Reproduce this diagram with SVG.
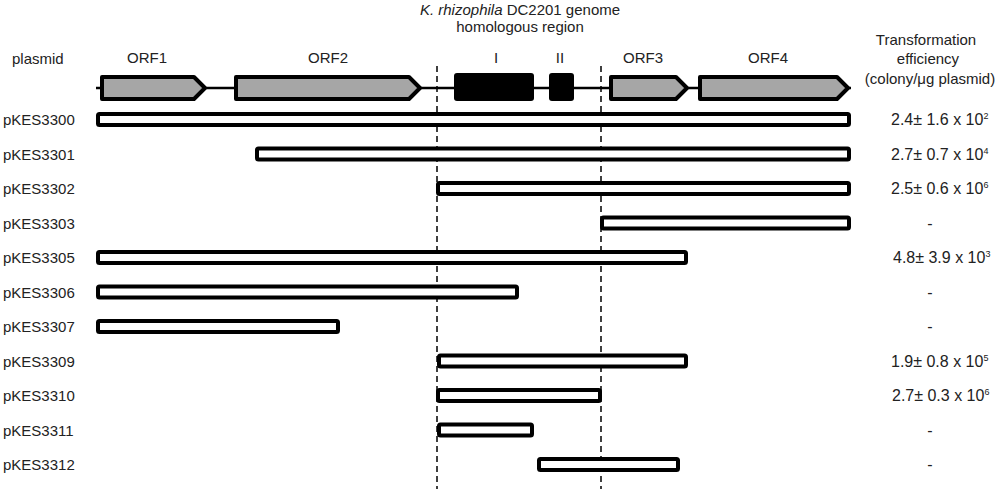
<svg xmlns="http://www.w3.org/2000/svg" width="1000" height="489" viewBox="0 0 1000 489">
<style>
text{font-family:"Liberation Sans",Arial,sans-serif;font-size:15px;fill:#222}
.mid{text-anchor:middle}
.val{font-size:16px}
.gene{fill:#a6a6a6;stroke:#000;stroke-width:4;stroke-linejoin:round}
.blk{fill:#000;stroke:none}
.bar{fill:#fff;stroke:#000;stroke-width:4}
.dash{stroke:#000;stroke-width:1.5;stroke-dasharray:6 4;fill:none}
.bb{stroke:#000;stroke-width:2.5;fill:none}
.sup{font-size:9px}
</style>
<g id="title">
<text class="mid" x="520" y="15"><tspan font-style="italic">K. rhizophila</tspan> DC2201 genome</text>
<text class="mid" x="520" y="32">homologous region</text>
</g>
<g id="header-plasmid"><text x="12" y="64">plasmid</text></g>
<g id="header-eff">
<text class="mid" x="926" y="45">Transformation</text>
<text class="mid" x="928" y="64">efficiency</text>
<text class="mid" x="930" y="84">(colony/μg plasmid)</text>
</g>
<g id="gene-map">
<line class="bb" x1="96" y1="88" x2="851" y2="88"/>
<g id="ORF1"><path class="gene" d="M102,77 H194 L205,88 L194,99 H102 Z"/><text class="mid" x="147" y="63">ORF1</text></g>
<g id="ORF2"><path class="gene" d="M236,77 H409 L420,88 L409,99 H236 Z"/><text class="mid" x="328" y="63">ORF2</text></g>
<g id="regionI"><rect class="blk" x="454" y="73" width="80" height="28" rx="3"/><text class="mid" x="496" y="63">I</text></g>
<g id="regionII"><rect class="blk" x="549" y="73" width="25" height="28" rx="3"/><text class="mid" x="560" y="63">II</text></g>
<g id="ORF3"><path class="gene" d="M611,77 H676 L687,88 L676,99 H611 Z"/><text class="mid" x="643" y="63">ORF3</text></g>
<g id="ORF4"><path class="gene" d="M700,77 H837 L848,88 L837,99 H700 Z"/><text class="mid" x="768" y="63">ORF4</text></g>
</g>
<g id="connectors">
<line class="dash" x1="437" y1="66" x2="437" y2="489"/>
<line class="dash" x1="601" y1="66" x2="601" y2="489"/>
</g>
<g id="pKES3300"><text x="3" y="125">pKES3300</text><rect class="bar" x="98" y="114" width="751" height="11" rx="1.5"/><text class="val" x="891" y="125">2.4± 1.6 x 10<tspan class="sup" dy="-6">2</tspan></text></g>
<g id="pKES3301"><text x="3" y="159.5">pKES3301</text><rect class="bar" x="257" y="148.5" width="592" height="11" rx="1.5"/><text class="val" x="891" y="159.5">2.7± 0.7 x 10<tspan class="sup" dy="-6">4</tspan></text></g>
<g id="pKES3302"><text x="3" y="194">pKES3302</text><rect class="bar" x="438" y="183" width="411" height="11" rx="1.5"/><text class="val" x="891" y="194">2.5± 0.6 x 10<tspan class="sup" dy="-6">6</tspan></text></g>
<g id="pKES3303"><text x="3" y="228.5">pKES3303</text><rect class="bar" x="602" y="217.5" width="247" height="11" rx="1.5"/><text class="mid val" x="930" y="228.5">-</text></g>
<g id="pKES3305"><text x="3" y="263">pKES3305</text><rect class="bar" x="98" y="252" width="588" height="11" rx="1.5"/><text class="val" x="893" y="263">4.8± 3.9 x 10<tspan class="sup" dy="-6">3</tspan></text></g>
<g id="pKES3306"><text x="3" y="297.5">pKES3306</text><rect class="bar" x="98" y="286.5" width="419" height="11" rx="1.5"/><text class="mid val" x="930" y="297.5">-</text></g>
<g id="pKES3307"><text x="3" y="332">pKES3307</text><rect class="bar" x="98" y="321" width="240" height="11" rx="1.5"/><text class="mid val" x="930" y="332">-</text></g>
<g id="pKES3309"><text x="3" y="366.5">pKES3309</text><rect class="bar" x="439" y="355.5" width="247" height="11" rx="1.5"/><text class="val" x="891" y="366.5">1.9± 0.8 x 10<tspan class="sup" dy="-6">5</tspan></text></g>
<g id="pKES3310"><text x="3" y="401">pKES3310</text><rect class="bar" x="438" y="390" width="162" height="11" rx="1.5"/><text class="val" x="892" y="401">2.7± 0.3 x 10<tspan class="sup" dy="-6">6</tspan></text></g>
<g id="pKES3311"><text x="3" y="435.5">pKES3311</text><rect class="bar" x="439" y="424.5" width="93" height="11" rx="1.5"/><text class="mid val" x="930" y="435.5">-</text></g>
<g id="pKES3312"><text x="3" y="470">pKES3312</text><rect class="bar" x="539" y="459" width="139" height="11" rx="1.5"/><text class="mid val" x="930" y="470">-</text></g>
</svg>
